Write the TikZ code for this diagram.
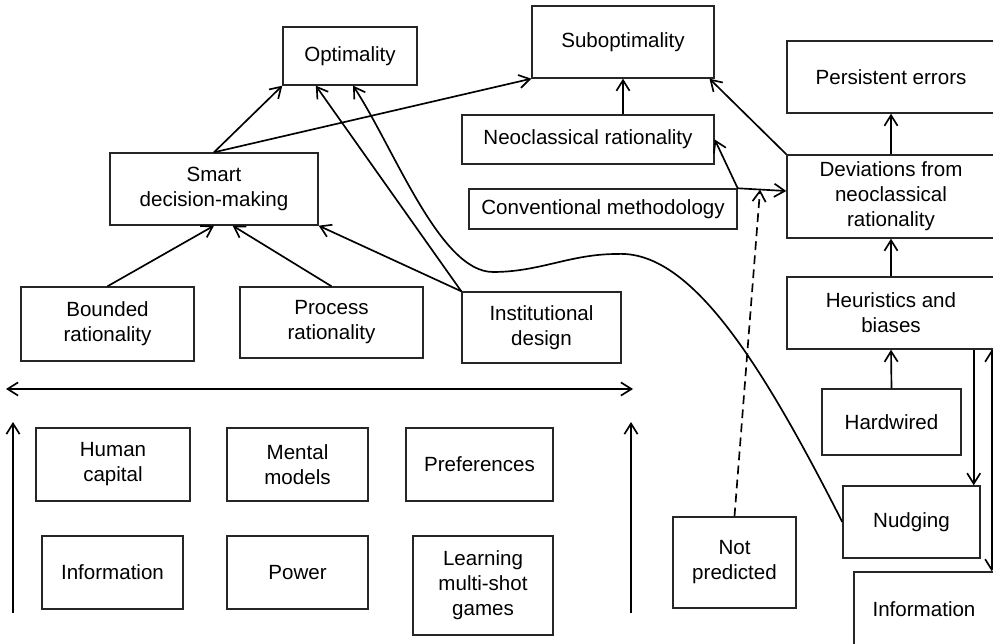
\documentclass[tikz,border=0pt]{standalone}
\usepackage{fontspec}
\setmainfont{Liberation Sans}
\usepackage{tikz}
\usetikzlibrary{arrows.meta}

\tikzset{
  box/.style={draw=black!85,line width=0.8pt,align=center,inner sep=0pt},
  sz/.style 2 args={minimum width=#1*0.02cm,minimum height=#2*0.02cm},
}

\begin{document}
\begin{tikzpicture}[x=0.02cm,y=-0.02cm,->,>={Straight Barb[length=6pt,width=7.5pt]},line width=0.95pt,font=\fontsize{11.7}{14.2}\selectfont]
	\useasboundingbox (0,0) rectangle (993,644);
	\clip (0,0) rectangle (993,644);

	% top row
	\node[box,sz={134}{58}] (opt)   at (350,56)    {Optimality};
	\node[box,sz={182}{72}] (sub)   at (623,42)    {Suboptimality};
	\node[box,sz={252}{49}] (neo)   at (588,139.5) {Neoclassical rationality};
	\node[box,sz={268}{40}] (conv)  at (603,209)   {Conventional methodology};
	\node[box,sz={208}{72}] (smart) at (214,189)   {Smart\\decision-making};

	% right column
	\node[box,sz={208}{72}] (per)   at (891,77)    {Persistent errors};
	\node[box,sz={208}{83}] (dev)   at (891,196.5) {Deviations from\\neoclassical\\rationality};
	\node[box,sz={208}{72}] (heur)  at (891,313)   {Heuristics and\\biases};
	\node[box,sz={139}{66}] (hard)  at (891.5,422) {Hardwired};
	\node[box,sz={137}{72}] (nud)   at (911.5,522) {Nudging};
	\node[box,sz={140}{74}] (info2) at (924,609)   {Information};
	\node[box,sz={123}{91}] (npred) at (734.5,562.5) {Not\\predicted};

	% middle row
	\node[box,sz={173}{74}] (bound) at (107.5,324) {Bounded\\rationality};
	\node[box,sz={183}{71}] (proc)  at (331.5,322.5) {Process\\rationality};
	\node[box,sz={159}{71}] (inst)  at (541.5,327.5) {Institutional\\design};

	% bottom block
	\node[box,sz={154}{73}] (hum)   at (113,464.5)   {Human\\capital};
	\node[box,sz={141}{73}] (ment)  at (297.5,464.5) {Mental\\models};
	\node[box,sz={147}{73}] (pref)  at (479.5,464.5) {Preferences};
	\node[box,sz={141}{73}] (info1) at (112.5,572.5) {Information};
	\node[box,sz={141}{73}] (pow)   at (297.5,572.5) {Power};
	\node[box,sz={140}{99}] (learn) at (483,585.5)   {Learning\\multi-shot\\games};

	\coordinate (hl) at (6,389);
	\coordinate (hr) at (633,389);
	\coordinate (vl) at (13,613);
	\coordinate (vr) at (631,613);
	\coordinate (h1) at ([xshift=-0.44cm]heur.south east);
	\coordinate (h2) at ([xshift=-0.08cm]heur.south east);

	\draw (smart.north) edge (opt.south west)
	      (smart.north) edge (sub.south west)
	      (bound.north) edge (smart.south)
	      (proc.north) edge (smart.-63)
	      (inst.north west) edge (smart.south east)
	      (inst.north west) edge (opt.-139)
	      (sub.south |- neo.north) edge (sub.south)
	      (dev.north west) edge (sub.-23.7)
	      (conv.north east) edge (neo.east)
	      (dev.north) edge (per.south)
	      (heur.north) edge (dev.south)
	      (hard.north) edge (heur.south)
	      (h1) edge (h1 |- nud.north)
	      (h2) edge (h2 |- info2.north);

	\draw (conv.north east) -- node[coordinate,pos=0.46] (hit) {} (dev.177);
	\draw[dash pattern=on 5pt off 3pt] (npred.north) -- (hit);

	\draw (nud.west) .. controls (760,360) and (690,250) .. (617,254)
	      .. controls (570,254) and (540,272) .. (493,272)
	      .. controls (440,272) and (395,150) .. (opt.-84);

	\draw[<->] (hl) -- (hr);
	\draw (vl) -- ++(0,-191);
	\draw (vr) -- ++(0,-191);
\end{tikzpicture}
\end{document}
